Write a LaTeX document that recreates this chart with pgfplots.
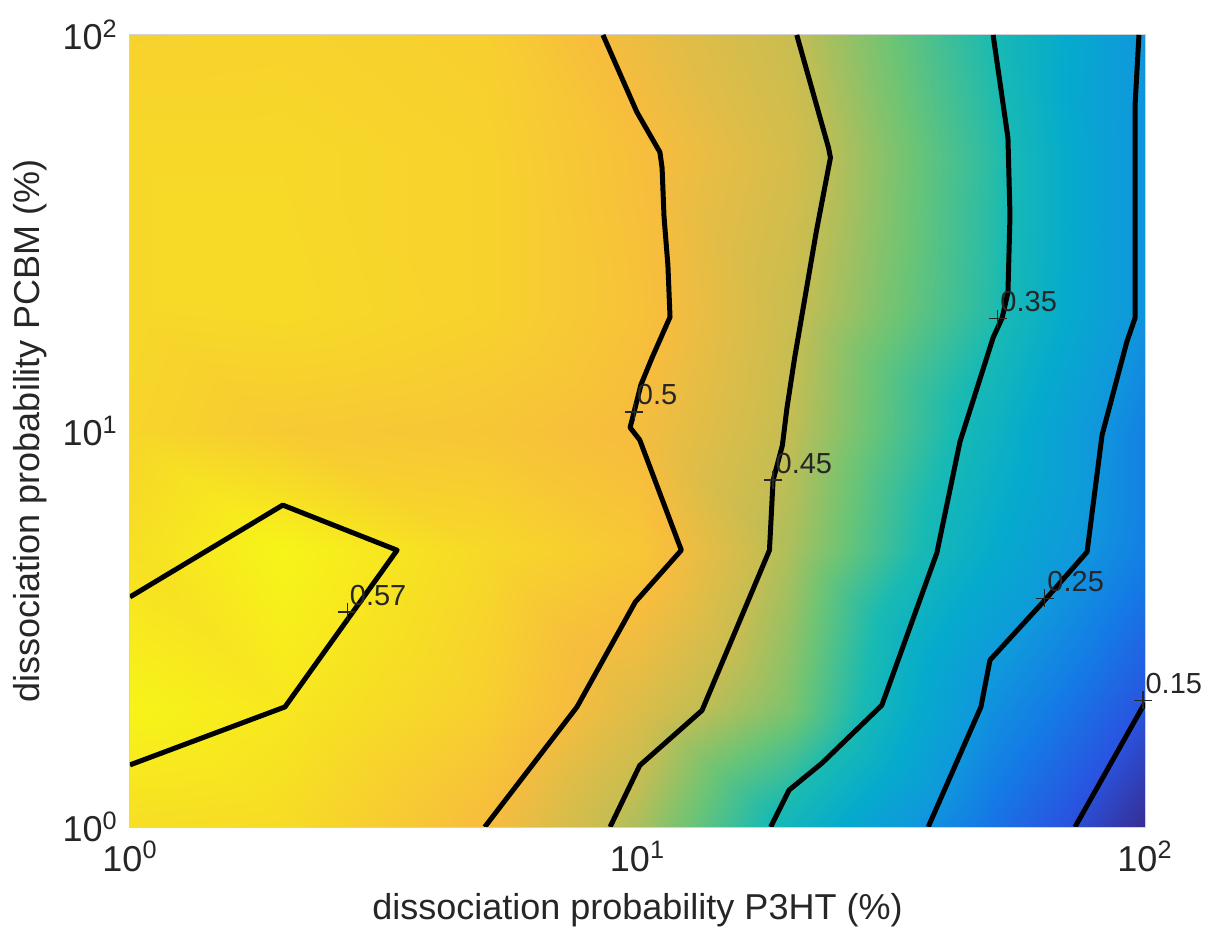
\documentclass[border=0pt]{standalone}
\usepackage{fontspec}
\setmainfont{Liberation Sans}
\usepackage{pgfplots}
\pgfplotsset{compat=1.18}
\definecolor{lbl}{rgb}{0.15,0.15,0.15}
\begin{document}
\begin{tikzpicture}
\begin{axis}[
  name=ax,
  scale only axis,
  width=507.5pt, height=396pt,
  xmode=log, ymode=log,
  xmin=1, xmax=100, ymin=1, ymax=100,
  xtick={1,10,100}, ytick={1,10,100},
  xticklabels={{10\textsuperscript{0}},{10\textsuperscript{1}},{10\textsuperscript{2}}},
  yticklabels={{10\textsuperscript{0}},{10\textsuperscript{1}},{10\textsuperscript{2}}},
  major tick length=0pt, minor tick length=0pt,
  xminorticks=false, yminorticks=false,
  axis line style={draw=gray!35, line width=0.6pt},
  xticklabel style={font=\fontsize{18}{20}\selectfont, text=lbl, anchor=north, inner sep=0pt, yshift=-7pt},
  yticklabel style={font=\fontsize{18}{20}\selectfont, text=lbl, anchor=east, inner sep=0pt, xshift=-6pt},
  xlabel={dissociation probability P3HT (\%)},
  ylabel={dissociation probability PCBM (\%)},
  xlabel style={font=\fontsize{18}{20}\selectfont, text=lbl, at={(axis description cs:0.5,-0.1048)}, anchor=center},
  ylabel style={font=\fontsize{18}{20}\selectfont, text=lbl, at={(axis description cs:-0.0985,0.5)}, anchor=center},
  colormap={ref}{
    rgb=(0.22,0.17,0.56)
    rgb=(0.16,0.33,0.88)
    rgb=(0.08,0.48,0.90)
    rgb=(0.06,0.60,0.86)
    rgb=(0.02,0.67,0.80)
    rgb=(0.10,0.73,0.70)
    rgb=(0.42,0.77,0.46)
    rgb=(0.78,0.74,0.32)
    rgb=(0.97,0.74,0.24)
    rgb=(0.97,0.86,0.15)
    rgb=(0.97,0.98,0.08)
  },
  point meta min=0.10, point meta max=0.60,
  clip=true,
]
\addplot[surf, shader=interp, mesh/cols=7, point meta=explicit] table[meta=z] {
x y z
1 1 0.555
2 1 0.550
5 1 0.500
10 1 0.435
20 1 0.333
50 1 0.190
100 1 0.102
1 2 0.590
2 2 0.570
5 2 0.530
10 2 0.4725
20 2 0.410
50 2 0.236
100 2 0.148
1 5 0.557
2 5 0.591
5 5 0.545
10 5 0.518
20 5 0.435
50 5 0.301
100 5 0.207
1 10 0.540
2 10 0.522
5 10 0.515
10 10 0.498
20 10 0.4475
50 10 0.325
100 10 0.210
1 20 0.545
2 20 0.548
5 20 0.535
10 20 0.509
20 20 0.454
50 20 0.356
100 20 0.240
1 50 0.545
2 50 0.545
5 50 0.535
10 50 0.504
20 50 0.464
50 50 0.360
100 50 0.239
1 100 0.535
2 100 0.537
5 100 0.530
10 100 0.488
20 100 0.452
50 100 0.350
100 100 0.244
};
% contour 0.57
\addplot[black, line width=2.5pt, line join=round] coordinates {
(1,3.81) (2.0,6.5) (3.36,5.0) (2.02,2.01) (1,1.435)
};
% contour 0.5
\addplot[black, line width=2.5pt, line join=round] coordinates {
(8.55,100) (9.97,63.9) (11.07,50.6) (11.18,46.2) (11.28,34.7) (11.48,26.2) (11.59,19.4) (10.68,15.3) (10.16,13.1) (9.67,10.2) (10.1,9.5) (12.2,5.0) (9.9,3.7) (7.6,2.01) (5.0,1)
};
% contour 0.45
\addplot[black, line width=2.5pt, line join=round] coordinates {
(20.6,100) (23.8,51.8) (24.0,49) (22.5,31.8) (20.4,15.3) (19.7,11.4) (19.3,9.2) (18.5,7.5) (18.2,5.0) (13.4,1.97) (10.1,1.43) (8.83,1)
};
% contour 0.35
\addplot[black, line width=2.5pt, line join=round] coordinates {
(50.2,100) (53.7,55) (54.2,35) (53.7,22.4) (52.3,19.3) (50.2,17.2) (43.2,9.4) (38.9,4.92) (30.3,2.03) (23.1,1.45) (19.9,1.24) (18.3,1)
};
% contour 0.25
\addplot[black, line width=2.5pt, line join=round] coordinates {
(97.3,100) (95.6,66.6) (95.6,19.3) (92.1,16.8) (82.3,9.77) (76.9,4.95) (63,3.70) (49.5,2.64) (47.5,2.01) (37.4,1)
};
% contour 0.15
\addplot[black, line width=2.5pt, line join=round] coordinates {
(100,2.06) (72.8,1)
};
% labels
\addplot[only marks, mark=+, mark size=4.5pt, mark options={line width=0.6pt}, lbl,
  point meta=explicit symbolic, nodes near coords,
  nodes near coords style={anchor=base west, inner sep=0pt, xshift=1pt, yshift=3.5pt,
    font=\fontsize{14.5}{16}\selectfont, text=lbl}]
coordinates {
(2.68,3.49)[0.57]
(9.86,11.17)[0.5]
(18.5,7.52)[0.45]
(51.3,19.2)[0.35]
(63.5,3.78)[0.25]
(99.1,2.09)[0.15]
};
\end{axis}
\path[use as bounding box] ([xshift=-65pt,yshift=-57.5pt]ax.south west) rectangle ([xshift=30pt,yshift=17.5pt]ax.north east);
\end{tikzpicture}
\end{document}
